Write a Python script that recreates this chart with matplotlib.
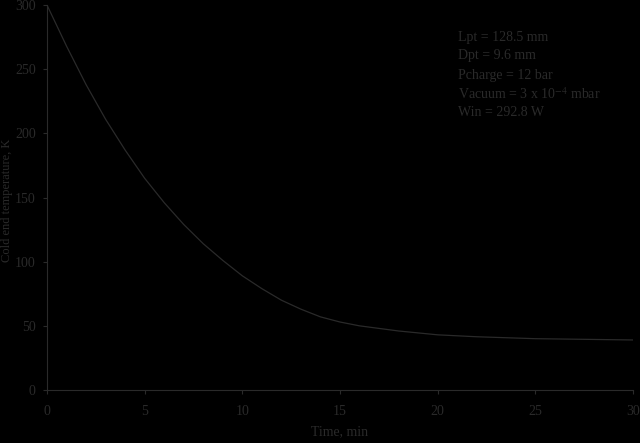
import numpy as np
import matplotlib
matplotlib.use('Agg')
import matplotlib.pyplot as plt

# cooldown curve
time_min = [0, 1, 2, 3, 4, 5, 6, 7, 8, 9, 10, 11, 12, 13, 14, 15, 16, 18, 20, 22, 25, 30]
temp_k = [300, 268, 238, 211, 187, 165, 146, 129, 114, 101, 89, 79, 70, 63, 57, 53, 50,
          46, 43, 41.5, 40, 39]

params = ['Lpt = 128.5 mm', 'Dpt = 9.6 mm', 'Pcharge = 12 bar',
          r'Vacuum = 3 x 10$^{-4}$ mbar', 'Win = 292.8 W']

ink = '#2a2a2a'
plt.rcParams['font.family'] = ['Liberation Serif', 'DejaVu Serif']
plt.rcParams['mathtext.fontset'] = 'stix'

fig = plt.figure(figsize=(6.4, 4.43), dpi=100, facecolor='black')
ax = fig.add_axes([0.0734, 0.1196, 0.9156, 0.8691], facecolor='black')

ax.plot(time_min, temp_k, color=ink, lw=0.9)

ax.set_xlim(0, 30)
ax.set_ylim(0, 300)
ax.set_xticks(range(0, 31, 5))
ax.set_yticks(range(0, 301, 50))
ax.tick_params(colors=ink, labelcolor=ink, labelsize=10, length=3, width=0.8)
ax.tick_params(axis='x', pad=8)
ax.tick_params(axis='y', pad=5)
for s in ['top', 'right']:
    ax.spines[s].set_visible(False)
for s in ['left', 'bottom']:
    ax.spines[s].set_color(ink)

fig.text(340 / 640, 1 - 432 / 443, 'Time, min', color=ink, fontsize=10,
         ha='center', va='center')
fig.text(7 / 640, 1 - 200 / 443, 'Cold end temperature, K', color=ink, fontsize=9,
         ha='center', va='center', rotation=90)

for i, t in enumerate(params):
    fig.text(458 / 640, 1 - (37 + 19 * i) / 443, t, color=ink, fontsize=10,
             ha='left', va='center')

fig.savefig('out.png', dpi=100, facecolor='black')
